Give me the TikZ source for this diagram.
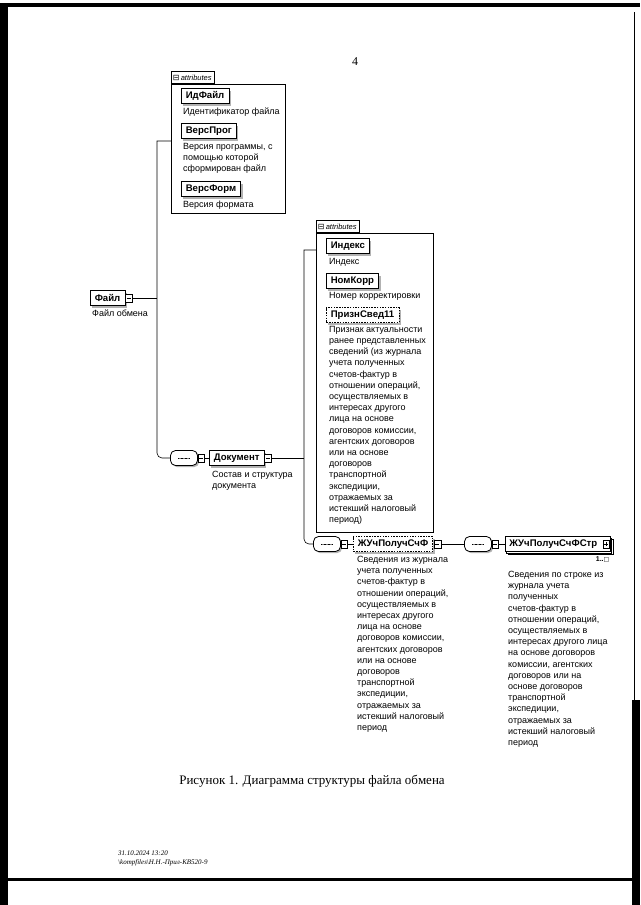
\documentclass[tikz,border=0pt]{standalone}
\usepackage{fontspec}
\setmainfont{Liberation Serif}
\setsansfont{Liberation Sans}
\newfontfamily\symfont{DejaVu Sans}
\usetikzlibrary{positioning, shadows, calc}

\begin{document}
\begin{tikzpicture}[x=1pt, y=-1pt,
    elem/.style = {rectangle, draw=black, line width=0.6pt, fill=white, font=\sffamily\bfseries\fontsize{9.6}{10}\selectfont, inner xsep=4.5pt, inner ysep=0pt, minimum height=15pt, drop shadow={shadow xshift=2pt, shadow yshift=-2pt, fill=black!60}},
    optelem/.style = {elem, dash pattern=on 1.5pt off 1.2pt},
    note/.style = {font=\sffamily\fontsize{9}{11.2}\selectfont, align=left, anchor=north west, inner sep=0pt},
    attrgroup/.style = {rectangle, draw=black, line width=0.6pt, inner sep=0pt, anchor=north west},
    attrtab/.style = {rectangle, draw=black, line width=0.6pt, fill=white, inner xsep=1.5pt, inner ysep=0pt, minimum height=12pt, anchor=south west, font=\sffamily\itshape\fontsize{7.5}{8}\selectfont},
    seqbox/.style = {rectangle, rounded corners=5pt, draw=black, line width=0.8pt, fill=white, minimum width=27pt, minimum height=15pt, drop shadow={shadow xshift=1.6pt, shadow yshift=-1.6pt, fill=black!60},
      path picture={
        \draw ([xshift=-6pt]path picture bounding box.center) -- ([xshift=6pt]path picture bounding box.center);
        \foreach \d in {-4,0,4} \fill ([xshift=\d pt]path picture bounding box.center) circle (0.9pt);}},
    xminus/.style = {rectangle, draw=black, fill=white, minimum width=6.5pt, minimum height=7.5pt, inner sep=0pt,
      path picture={\draw ([xshift=-2pt]path picture bounding box.center) -- ([xshift=2pt]path picture bounding box.center);}},
    xplus/.style = {xminus,
      path picture={\draw ([xshift=-2pt]path picture bounding box.center) -- ([xshift=2pt]path picture bounding box.center);
        \draw ([yshift=-2pt]path picture bounding box.center) -- ([yshift=2pt]path picture bounding box.center);}},
    wire/.style = {draw=black, line width=0.6pt}
]
\useasboundingbox (0,0) rectangle (640,905);

% scan frame
\fill (0,3) rectangle (640,7);
\fill (0,3) rectangle (8,905);
\draw[line width=1pt] (634,12) -- (634,905);
\fill (632,700) rectangle (640,905);
\fill (8,878) rectangle (640,881);

\node[font=\fontsize{12}{14}\selectfont] (page) at (355,62) {4};

% Root element
\node[elem, anchor=west] (F) at (90,298) {Файл};
\node[xminus, right=0pt of F] (Fx) {};
\node[note] (Fn) at ([xshift=2pt, yshift=-4pt]F.south west) {Файл обмена};

% Attributes of the root
\node[attrgroup, minimum width=114pt, minimum height=129pt] (attrA) at (171,84) {};
\node[attrtab] (tabA) at (attrA.north west) {{\upshape\symfont\fontsize{8}{8}\selectfont ⊟}\,attributes\,};
\node[elem, anchor=west] (IdF) at (181,96) {ИдФайл};
\node[note] (IdFn) at (183,108) {Идентификатор файла};
\node[elem, anchor=west] (VP) at (181,131) {ВерсПрог};
\node[note] (VPn) at (183,143) {Версия программы, с\\помощью которой\\сформирован файл};
\node[elem, anchor=west] (VF) at (181,189) {ВерсФорм};
\node[note] (VFn) at (183,201) {Версия формата};

% Document element
\node[seqbox] (seqA) at (184,458) {};
\node[xminus, right=0pt of seqA] (seqAx) {};
\node[elem, anchor=west] (Doc) at (209,458) {Документ};
\node[xminus, right=0pt of Doc] (Docx) {};
\node[note] (Docn) at ([xshift=3pt, yshift=-5pt]Doc.south west) {Состав и структура\\документа};

% Attributes of the document
\node[attrgroup, minimum width=117pt, minimum height=299pt] (attrB) at (316,233) {};
\node[attrtab] (tabB) at (attrB.north west) {{\upshape\symfont\fontsize{8}{8}\selectfont ⊟}\,attributes\,};
\node[elem, anchor=west] (Ind) at (326,246) {Индекс};
\node[note] (Indn) at (329,258) {Индекс};
\node[elem, anchor=west] (NK) at (326,281) {НомКорр};
\node[note] (NKn) at (329,292) {Номер корректировки};
\node[optelem, anchor=west] (PS) at (326,315) {ПризнСвед11};
\node[note] (PSn) at (329,326) {Признак актуальности\\ранее представленных\\сведений (из журнала\\учета полученных\\счетов-фактур в\\отношении операций,\\осуществляемых в\\интересах другого\\лица на основе\\договоров комиссии,\\агентских договоров\\или на основе\\договоров\\транспортной\\экспедиции,\\отражаемых за\\истекший налоговый\\период)};

% Journal element
\node[seqbox] (seqB) at (327,544) {};
\node[xminus, right=0pt of seqB] (seqBx) {};
\node[optelem, anchor=west] (J1) at (353,544) {ЖУчПолучСчФ};
\node[xminus, right=1pt of J1] (J1x) {};
\node[note] (J1n) at (357,556) {Сведения из журнала\\учета полученных\\счетов-фактур в\\отношении операций,\\осуществляемых в\\интересах другого\\лица на основе\\договоров комиссии,\\агентских договоров\\или на основе\\договоров\\транспортной\\экспедиции,\\отражаемых за\\истекший налоговый\\период};

% Journal row element
\node[seqbox] (seqC) at (478,544) {};
\node[xminus, right=0pt of seqC] (seqCx) {};
\node[elem, anchor=west, inner xsep=4pt, double copy shadow={shadow xshift=1.4pt, shadow yshift=-1.4pt}] (J2) at (505,544) {ЖУчПолучСчФСтр\kern9pt};
\node[xplus] (J2x) at ([xshift=-4.5pt]J2.east) {};
\node[font=\sffamily\bfseries\fontsize{7}{8}\selectfont, anchor=north east, inner sep=0pt] (J2m) at ([xshift=-1pt, yshift=-5pt]J2.south east) {1..{\symfont\mdseries\fontsize{6}{7}\selectfont □}};
\node[note] (J2n) at (508,571) {Сведения по строке из\\журнала учета\\полученных\\счетов-фактур в\\отношении операций,\\осуществляемых в\\интересах другого лица\\на основе договоров\\комиссии, агентских\\договоров или на\\основе договоров\\транспортной\\экспедиции,\\отражаемых за\\истекший налоговый\\период};

% Connectors
\coordinate (busAtop) at (157,141);
\coordinate (busAbot) at (157,458);
\coordinate (busBtop) at (304,250);
\coordinate (busBbot) at (304,544);
\draw[wire] (Fx.east) -- (Fx.east -| busAtop);
\draw[wire] (attrA.west |- busAtop) -- (busAtop) [rounded corners=5pt] -- (busAbot) -- (seqA.west);
\draw[wire] (seqAx.east) -- (Doc.west);
\draw[wire] (Docx.east) -- (Docx.east -| busBtop);
\draw[wire] (attrB.west |- busBtop) -- (busBtop) [rounded corners=5pt] -- (busBbot) -- (seqB.west);
\draw[wire] (seqBx.east) -- (J1.west);
\draw[wire] (J1x.east) -- (seqC.west);
\draw[wire] (seqCx.east) -- (J2.west);

% Caption and footer
\node[font=\fontsize{13}{15}\selectfont] (cap) at (312,781) {Рисунок 1. Диаграмма структуры файла обмена};
\node[font=\itshape\fontsize{7}{9}\selectfont, align=left, anchor=north west, inner sep=0pt] (foot) at (118,851) {31.10.2024 13:20\\\textbackslash kompfiles\textbackslash Н.Н.-Прил-КВ520-9};
\end{tikzpicture}
\end{document}
